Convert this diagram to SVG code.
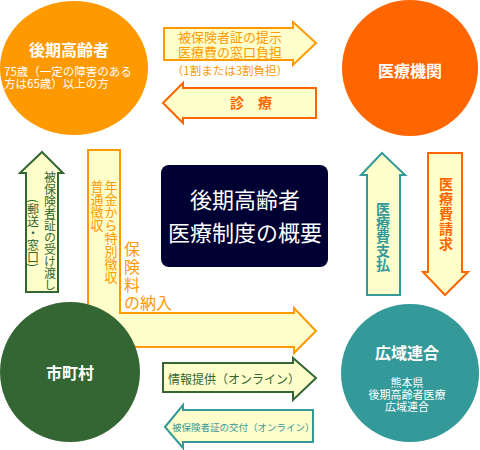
<svg xmlns="http://www.w3.org/2000/svg" width="480" height="450" viewBox="0 0 480 450">
<style>
text{font-family:"Noto Sans CJK JP","Noto Sans",sans-serif;}
.arr{fill:#FFFFCC;stroke-width:2;stroke-linejoin:miter;}
.vt{writing-mode:vertical-rl;}
.w{fill:#FFFFFF;}
.b{font-weight:bold;}
.c{text-anchor:middle;}
</style>
<rect width="480" height="450" fill="#FFFFFF"/>
<g id="connectors">
  <path class="arr" stroke="#FF9900" d="M164,28 H293 V22 L316,43 L293,65 V60 H164 Z"/>
  <path class="arr" stroke="#FF6600" d="M163,103 L183,83 V88 H316 V118 H183 V123 Z"/>
  <path class="arr" stroke="#336633" d="M42,152 L63,173 H58 V292 H26 V173 H20 Z"/>
  <path class="arr" stroke="#FF9900" d="M88,150 H120 V313 H294 V308 L316,331 L294,353 V347 H88 Z"/>
  <path class="arr" stroke="#339999" d="M382,153 L405,175 H400 V295 H367 V175 H361 Z"/>
  <path class="arr" stroke="#FF6600" d="M428,153 H462 V272 H468 L445,295 L423,272 H428 Z"/>
  <path class="arr" stroke="#336633" d="M163,363 H293 V358 L316,378 L293,400 V392 H163 Z"/>
  <path class="arr" stroke="#339999" d="M165,427 L183,405 V410 H313 V442 H183 V448 Z"/>
  <text class="c" x="230" y="42" font-size="13" fill="#FF9900">被保険者証の提示</text>
  <text class="c" x="230" y="57" font-size="13" fill="#FF9900">医療費の窓口負担</text>
  <text class="c" x="230" y="75" font-size="11.5" fill="#FF9900">（1割または3割負担）</text>
  <text class="c b" x="251" y="108" font-size="14" fill="#FF6600">診　療</text>
  <text class="vt" x="50" y="171" font-size="12" fill="#336633">被保険者証の受け渡し</text>
  <text class="vt" x="33" y="199" font-size="12" fill="#336633">(郵送・窓口)</text>
  <text class="vt" x="111" y="180" font-size="13" fill="#FF9900">年金から特別徴収</text>
  <text class="vt" x="97" y="180" font-size="13" fill="#FF9900">普通徴収</text>
  <text class="vt" x="132" y="241" font-size="16" letter-spacing="2" fill="#FF9900">保険料</text>
  <text x="124" y="309" font-size="16" fill="#FF9900">の納入</text>
  <text class="vt b" x="383" y="202" font-size="14" fill="#339999">医療費支払</text>
  <text class="vt b" x="446" y="177" font-size="14" letter-spacing="1" fill="#FF6600">医療費請求</text>
  <text x="168" y="384" font-size="12" fill="#336633">情報提供（オンライン）</text>
  <text x="172" y="431" font-size="9.5" fill="#339999">被保険者証の交付（オンライン）</text>
</g>
<g id="node-koureisha">
  <ellipse cx="74" cy="68" rx="74" ry="67" fill="#FF9900"/>
  <text class="c b w" x="69" y="56" font-size="16">後期高齢者</text>
  <text class="w" x="4" y="76" font-size="11.5">75歳（一定の障害のある</text>
  <text class="w" x="4" y="88" font-size="11.5">方は65歳）以上の方</text>
</g>
<g id="node-iryoukikan">
  <circle cx="410" cy="68" r="68" fill="#FF6600"/>
  <text class="c b w" x="410" y="77" font-size="16">医療機関</text>
</g>
<g id="node-shichouson">
  <circle cx="70" cy="372" r="70" fill="#336633"/>
  <text class="c b w" x="70" y="379" font-size="16">市町村</text>
</g>
<g id="node-kouikirengou">
  <circle cx="410" cy="373" r="69" fill="#339999"/>
  <text class="c b w" x="407" y="359" font-size="16">広域連合</text>
  <text class="c w" x="407" y="387" font-size="11">熊本県</text>
  <text class="c w" x="407" y="399" font-size="11">後期高齢者医療</text>
  <text class="c w" x="407" y="411" font-size="11">広域連合</text>
</g>
<g id="node-title">
  <rect x="161" y="165" width="167" height="102" rx="8" fill="#000033"/>
  <text class="c w" x="245" y="208" font-size="22">後期高齢者</text>
  <text class="c w" x="245" y="241" font-size="22">医療制度の概要</text>
</g>
</svg>
